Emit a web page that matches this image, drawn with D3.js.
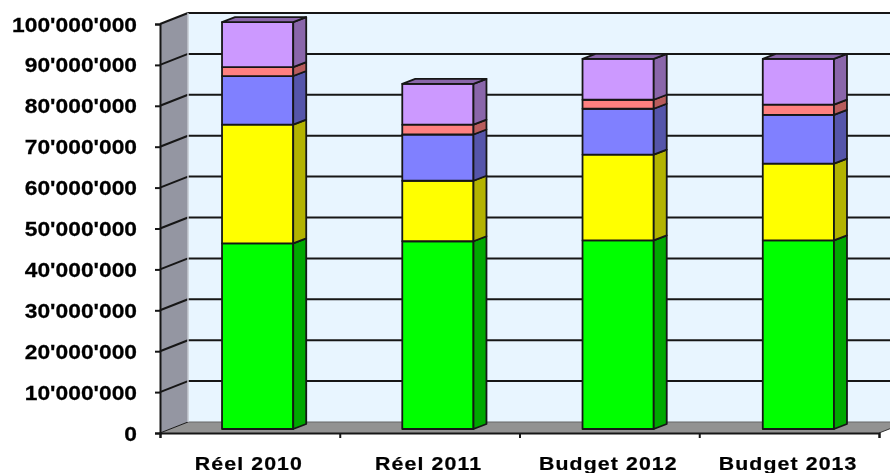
<!DOCTYPE html>
<html>
<head>
<meta charset="utf-8">
<script src="https://cdn.jsdelivr.net/npm/d3@7"></script>
<style>
  html, body { margin: 0; padding: 0; background: #fff; overflow: hidden; }
  svg { display: block; filter: blur(0.55px); }
  text { font-family: "Liberation Sans", Arial, sans-serif; font-weight: bold; fill: #000; stroke: #000; stroke-width: 0.25px; }
</style>
</head>
<body>
<div id="chart"></div>
<script>
// Datos del grafico
const categories = ["Réel 2010", "Réel 2011", "Budget 2012", "Budget 2013"];
const seriesNames = ["vert", "jaune", "bleu", "rouge", "violet"];
const vert = [45400000, 45900000, 46100000, 46100000];
const jaune = [29000000, 14800000, 21000000, 18800000];
const bleu = [11900000, 11300000, 11200000, 11900000];
const rouge = [2200000, 2400000, 2200000, 2500000];
const violet = [11000000, 10000000, 10000000, 11200000];
const yTicks = [0, 10000000, 20000000, 30000000, 40000000, 50000000, 60000000, 70000000, 80000000, 90000000, 100000000];

const frontColors = ["#00ff00", "#ffff00", "#8080ff", "#ff8080", "#cc99ff"];
const sideColors = ["#00a800", "#b3b300", "#5555aa", "#b85c5c", "#8a66aa"];

const width = 890, height = 473;
const depthX = 28, depthY = -11;       // profundidad del fondo 3D
const barShiftX = 7.5, barShiftY = -4; // posicion de la barra en el suelo
const barDepthX = 13, barDepthY = -5;  // profundidad de cada barra
const lineColor = "#161616";

const svg = d3.select("#chart").append("svg")
    .attr("width", width)
    .attr("height", height);

// x para el eje, xBar para las barras (en el original no coinciden del todo)
const x = d3.scaleBand().domain(categories).range([160, 879]).paddingInner(0.605).paddingOuter(0.3025);
const xBar = d3.scaleBand().domain(categories).range([160, 881]).paddingInner(0.605).paddingOuter(0.3025);
const y = d3.scaleLinear().domain([0, 100000000]).range([433, 24]);

const rows = categories.map((c, i) => ({
    category: c, vert: vert[i], jaune: jaune[i], bleu: bleu[i], rouge: rouge[i], violet: violet[i]
}));
const stacked = d3.stack().keys(seriesNames)(rows);

const x0 = x.range()[0], x1 = x.range()[1];
const yBottom = y(0), yTop = y(100000000);

// Pared del fondo
svg.append("rect")
    .attr("x", x0 + depthX).attr("y", yTop + depthY)
    .attr("width", x1 - x0 + 10).attr("height", yBottom - yTop)
    .attr("fill", "#e8f5ff");

// Pared lateral
svg.append("polygon")
    .attr("points", [[x0, yBottom], [x0 + depthX, yBottom + depthY], [x0 + depthX, yTop + depthY], [x0, yTop]].join(" "))
    .attr("fill", "#9496a2");

// Suelo
svg.append("polygon")
    .attr("points", [[x0, yBottom], [x0 + depthX, yBottom + depthY], [x1 + depthX, yBottom + depthY], [x1, yBottom]].join(" "))
    .attr("fill", "#929292");

// Lineas de la cuadricula
yTicks.forEach(t => {
    if (t > 0) {
        svg.append("line")
            .attr("x1", x0 + depthX).attr("x2", x1 + depthX)
            .attr("y1", y(t) + depthY).attr("y2", y(t) + depthY)
            .attr("stroke", lineColor).attr("stroke-width", 2);
    }
    svg.append("line")
        .attr("x1", x0).attr("x2", x0 + depthX)
        .attr("y1", y(t)).attr("y2", y(t) + depthY)
        .attr("stroke", lineColor).attr("stroke-width", t > 0 ? 2 : 1);
});
svg.append("line")
    .attr("x1", x0 + depthX).attr("x2", x1 + depthX)
    .attr("y1", yBottom + depthY).attr("y2", yBottom + depthY)
    .attr("stroke", "#666").attr("stroke-width", 1);
svg.append("line")
    .attr("x1", x1).attr("x2", x1 + depthX)
    .attr("y1", yBottom).attr("y2", yBottom + depthY)
    .attr("stroke", "#333").attr("stroke-width", 1);
svg.append("line")
    .attr("x1", x0 + depthX).attr("x2", x0 + depthX)
    .attr("y1", yBottom + depthY).attr("y2", yTop + depthY)
    .attr("stroke", "#c4c8d0").attr("stroke-width", 1.5);

// Barras apiladas
const bw = xBar.bandwidth();
const barsG = svg.append("g").attr("stroke", lineColor).attr("stroke-width", 1.8).attr("stroke-linejoin", "round");
categories.forEach((c, i) => {
    const left = xBar(c) + barShiftX;
    const right = left + bw;
    stacked.forEach((layer, s) => {
        const lo = y(layer[i][0]) + barShiftY;
        const hi = y(layer[i][1]) + barShiftY;
        barsG.append("rect")
            .attr("x", left).attr("y", hi)
            .attr("width", bw).attr("height", lo - hi)
            .attr("fill", frontColors[s]);
        barsG.append("polygon")
            .attr("points", [[right, lo], [right + barDepthX, lo + barDepthY], [right + barDepthX, hi + barDepthY], [right, hi]].join(" "))
            .attr("fill", sideColors[s]);
        if (s === stacked.length - 1) {
            barsG.append("polygon")
                .attr("points", [[left, hi], [left + barDepthX, hi + barDepthY], [right + barDepthX, hi + barDepthY], [right, hi]].join(" "))
                .attr("fill", sideColors[s]);
        }
    });
});

// Ejes
const yAxis = d3.axisLeft(y)
    .tickValues(yTicks)
    .tickSize(5)
    .tickPadding(0)
    .tickFormat(d => d3.format(",")(d).replace(/,/g, "'"));
const yG = svg.append("g").attr("transform", `translate(${x0},0)`).call(yAxis);
yG.select(".domain").attr("stroke", lineColor).attr("stroke-width", 2);
yG.selectAll(".tick line").attr("stroke", lineColor).attr("stroke-width", 2);
yG.selectAll(".tick text")
    .attr("x", 0).attr("dy", "0.35em")
    .attr("transform", "translate(-23,0) scale(1.14,1)")
    .style("font-size", "20px");

// Marcas del eje X en los limites de cada categoria
const xBounds = categories.map(c => x(c) - x.step() * x.paddingInner() / 2).concat([x1]);
const xBoundScale = d3.scaleLinear().domain([x0, x1]).range([x0, x1]);
const xAxis = d3.axisBottom(xBoundScale).tickValues(xBounds).tickSize(5).tickFormat("");
const xG = svg.append("g").attr("transform", `translate(0,${yBottom})`).call(xAxis);
xG.select(".domain").attr("stroke", lineColor).attr("stroke-width", 2);
xG.selectAll(".tick line").attr("stroke", lineColor).attr("stroke-width", 2);

// Etiquetas de categorias
svg.append("g").selectAll("text")
    .data(categories)
    .enter()
    .append("text")
    .attr("text-anchor", "middle")
    .attr("transform", d => `translate(${x(d) + x.bandwidth() / 2 - 1},470) scale(1.12,1)`)
    .style("font-size", "19px")
    .style("letter-spacing", "1px")
    .text(d => d);
</script>
</body>
</html>
